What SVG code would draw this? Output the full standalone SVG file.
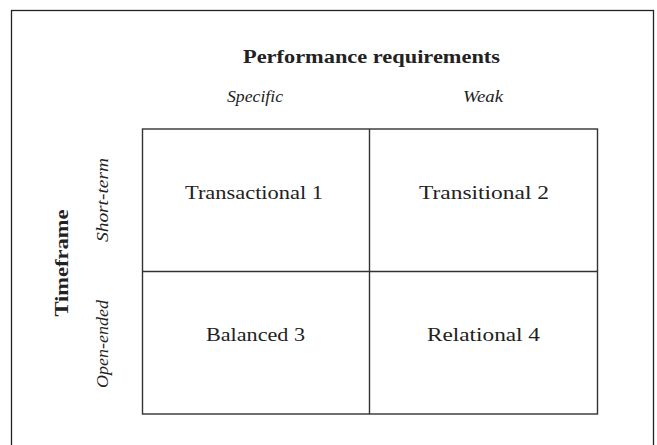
<svg xmlns="http://www.w3.org/2000/svg" width="657" height="445" viewBox="0 0 657 445">
<style>
.t{font-family:"Liberation Serif","Times New Roman",serif;fill:#222;}
.cell{font-size:19px;text-anchor:middle;}
.hd{font-size:18px;font-weight:bold;text-anchor:middle;}
.it{font-size:16px;font-style:italic;text-anchor:middle;}
.ln{stroke:#333;stroke-width:1.4;fill:none;}
</style>
<rect x="11.5" y="10.5" width="642" height="450" fill="none" stroke="#222" stroke-width="1.3"/>
<g id="header">
<text class="t hd" x="371.5" y="63" textLength="257" lengthAdjust="spacingAndGlyphs">Performance requirements</text>
<text class="t it" x="255" y="102" textLength="56" lengthAdjust="spacingAndGlyphs">Specific</text>
<text class="t it" x="483" y="102" textLength="40" lengthAdjust="spacingAndGlyphs">Weak</text>
</g>
<g id="side">
<text class="t hd" transform="translate(68,263) rotate(-90)" x="0" y="0" font-size="19" textLength="107" lengthAdjust="spacingAndGlyphs">Timeframe</text>
<text class="t it" transform="translate(108,200) rotate(-90)" x="0" y="0" textLength="84" lengthAdjust="spacingAndGlyphs">Short-term</text>
<text class="t it" transform="translate(108,344) rotate(-90)" x="0" y="0" textLength="88" lengthAdjust="spacingAndGlyphs">Open-ended</text>
</g>
<g id="grid">
<rect class="ln" x="142.5" y="129" width="455" height="285"/>
<line class="ln" x1="369.5" y1="129" x2="369.5" y2="414"/>
<line class="ln" x1="142.5" y1="271.5" x2="597.5" y2="271.5"/>
</g>
<g id="q1"><text class="t cell" x="254" y="199" textLength="138" lengthAdjust="spacingAndGlyphs">Transactional 1</text></g>
<g id="q2"><text class="t cell" x="484" y="199" textLength="130" lengthAdjust="spacingAndGlyphs">Transitional 2</text></g>
<g id="q3"><text class="t cell" x="255.5" y="341" textLength="99" lengthAdjust="spacingAndGlyphs">Balanced 3</text></g>
<g id="q4"><text class="t cell" x="483.5" y="341" textLength="113" lengthAdjust="spacingAndGlyphs">Relational 4</text></g>
</svg>
